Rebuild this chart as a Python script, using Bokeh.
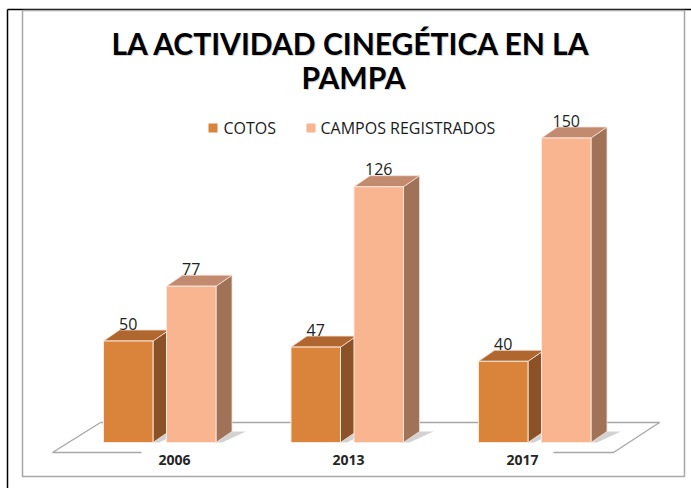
from bokeh.plotting import figure
from bokeh.models import Range1d, ColumnDataSource
from bokeh.core.properties import value
from bokeh.embed import file_html
from bokeh.resources import INLINE

# ---------------- data ----------------
categories = ["2006", "2013", "2017"]
series_names = ["COTOS", "CAMPOS REGISTRADOS"]
cotos = [50, 47, 40]
campos = [77, 126, 150]
title_lines = ["LA ACTIVIDAD CINEGÉTICA EN LA", "PAMPA"]

# ---------------- layout / styles ----------------
W, H = 691, 488
PX_X = 187.5          # pixels per category step
X0 = 168.0            # pixel x of first category centre
PX_Y = 2.03           # pixels per unit of value
BASE = 442.0          # pixel y (from top) of the bar base

x_start = -X0 / PX_X
x_end = x_start + W / PX_X
y_start = -(H - BASE) / PX_Y
y_end = y_start + H / PX_Y


def sx(px):
    return x_start + px / PX_X


def sy(py):
    return y_end - py / PX_Y


BAR_W = 49.5 / PX_X
OFFS = [(-65.0) / PX_X, (-2.0) / PX_X]   # left edge of each series relative to centre
DX = 16.0 / PX_X
DY = 11.0 / PX_Y

front_cols = ["#DA833B", "#F9B590"]
top_cols = ["#B0672F", "#C28A6E"]
side_cols = ["#8B5228", "#A07358"]

p = figure(width=W, height=H, x_range=Range1d(x_start, x_end), y_range=Range1d(y_start, y_end),
           output_backend="svg", toolbar_location=None, x_axis_type=None, y_axis_type=None,
           min_border=0, outline_line_color=None, background_fill_color="white",
           border_fill_color="white")
p.grid.visible = False

# borders
p.line([sx(7), sx(7)], [sy(9), sy(490)], line_color="black", line_width=1.5)
p.line([sx(7), sx(700)], [sy(9), sy(9)], line_color="black", line_width=1.5)
p.line([sx(22), sx(684), sx(684), sx(22), sx(22)],
       [sy(10), sy(10), sy(476), sy(476), sy(10)], line_color="#A6A6A6", line_width=1.5)

# floor
FLOOR_C = "#A6A6A6"
p.line([sx(100), sx(659)], [sy(422), sy(422)], line_color=FLOOR_C, line_width=1.3)
p.line([sx(141), sx(52), sx(100)], [sy(452), sy(452), sy(422)], line_color=FLOOR_C, line_width=1.3)
p.line([sx(553), sx(613), sx(659)], [sy(452), sy(452), sy(422)], line_color=FLOOR_C, line_width=1.3)

series_vals = [cotos, campos]

# shadows
sh_xs, sh_ys = [], []
for i in range(len(categories)):
    for s in range(2):
        l = i + OFFS[s]
        r = l + BAR_W
        sh_xs.append([r, r + DX, r + DX + 14 / PX_X, r + 6 / PX_X])
        sh_ys.append([0, DY, DY, 0])
p.patches(sh_xs, sh_ys, fill_color="#7F7F7F", fill_alpha=0.35, line_color=None)

for s in range(2):
    vals = series_vals[s]
    fx, fy, tx, ty, kx, ky = [], [], [], [], [], []
    for i, v in enumerate(vals):
        l = i + OFFS[s]
        r = l + BAR_W
        fx.append([l, r, r, l]); fy.append([0, 0, v, v])
        tx.append([l, r, r + DX, l + DX]); ty.append([v, v, v + DY, v + DY])
        kx.append([r, r + DX, r + DX, r]); ky.append([0, DY, v + DY, v])
    p.patches(kx, ky, fill_color=side_cols[s], line_color="#F2E0D6", line_width=0.8)
    p.patches(tx, ty, fill_color=top_cols[s], line_color="#F2E0D6", line_width=0.8)
    p.patches(fx, fy, fill_color=front_cols[s], line_color="#FCE8DC", line_width=1.0)
    lab = ColumnDataSource(dict(x=[i + OFFS[s] + BAR_W / 2 for i in range(len(vals))],
                                y=[v + DY + 6.5 / PX_Y for v in vals],
                                t=[str(v) for v in vals]))
    p.text(x="x", y="y", text="t", source=lab, text_align="center", text_baseline="middle",
           text_font=value("Open Sans"), text_font_size="16px", text_color="#222222")

# category labels (front edge of the floor)
cat_src = ColumnDataSource(dict(x=[sx(174 + 174 * i) for i in range(len(categories))],
                                y=[sy(459)] * len(categories), t=categories))
p.text(x="x", y="y", text="t", source=cat_src, text_align="center", text_baseline="middle",
       text_font=value("Open Sans"), text_font_size="14px", text_font_style="bold",
       text_color="#262626")

# title
t_src = ColumnDataSource(dict(x=[sx(351), sx(353)], y=[sy(42), sy(76)], t=title_lines))
t_sh = ColumnDataSource(dict(x=[sx(352), sx(354)], y=[sy(43), sy(77)], t=title_lines))
p.text(x="x", y="y", text="t", source=t_sh, text_align="center", text_baseline="middle",
       text_font=value("Lato"), text_font_size="30px", text_font_style="bold",
       text_color="#B0B0B0", text_alpha=0.6)
p.text(x="x", y="y", text="t", source=t_src, text_align="center", text_baseline="middle",
       text_font=value("Lato"), text_font_size="30px", text_font_style="bold", text_color="black")

# legend
lg_x = [208, 306]
lg_tx = [223, 320]
p.quad(left=[sx(a) for a in lg_x], right=[sx(a + 9) for a in lg_x],
       bottom=[sy(132)] * 2, top=[sy(123)] * 2, fill_color=front_cols, line_color=None)
lg_src = ColumnDataSource(dict(x=[sx(a) for a in lg_tx], y=[sy(127.5)] * 2, t=series_names))
p.text(x="x", y="y", text="t", source=lg_src, text_align="left", text_baseline="middle",
       text_font=value("Open Sans"), text_font_size="16px", text_color="#1A1A1A")

open("out.html", "w").write(file_html(p, INLINE))
